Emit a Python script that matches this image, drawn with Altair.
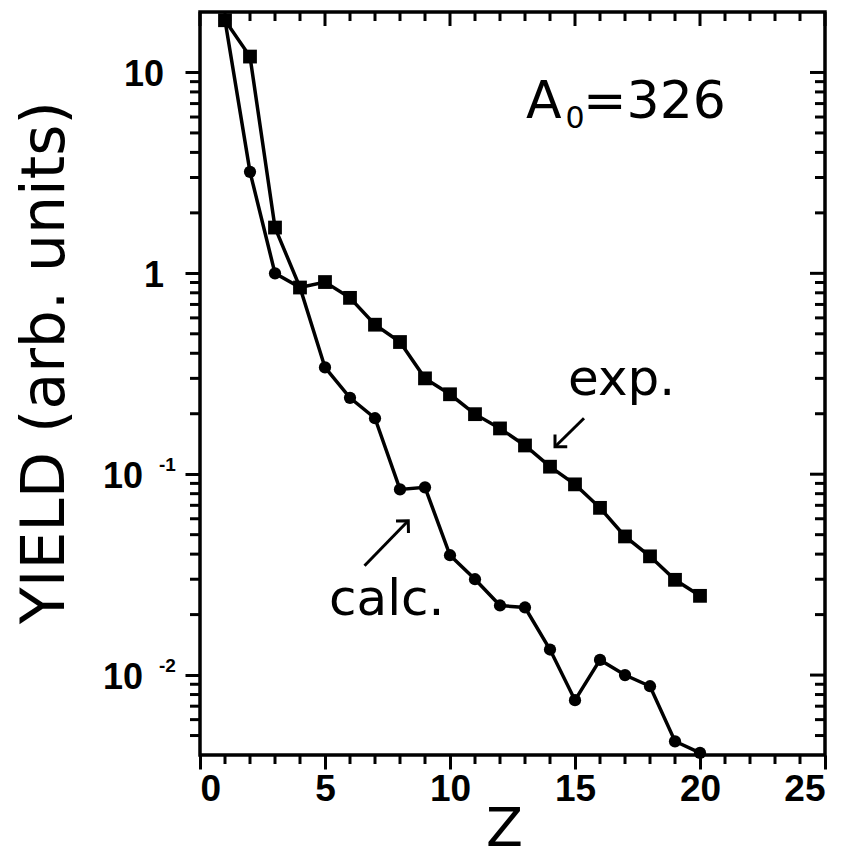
import altair as alt
import pandas as pd

# ---------------- data ----------------
Z = list(range(1, 21))
exp_yield = [18.2, 12.0, 1.69, 0.85, 0.905, 0.755, 0.555, 0.455, 0.30, 0.25,
             0.199, 0.169, 0.139, 0.109, 0.089, 0.068, 0.049, 0.039, 0.0298, 0.0248]
calc_yield = [18.2, 3.2, 1.0, 0.85, 0.34, 0.24, 0.19, 0.084, 0.086, 0.0395,
              0.030, 0.0222, 0.0217, 0.0134, 0.0075, 0.0119, 0.0100, 0.0088, 0.00468, 0.0041]

x_major = [0, 5, 10, 15, 20, 25]
x_minor = [i for i in range(26) if i % 5]
y_major = [0.01, 0.1, 1, 10]
y_minor = [k * 10.0 ** d for d in (-3, -2, -1, 0) for k in range(2, 10)
           if 0.004 < k * 10.0 ** d < 20]

ylab_vals = [10, 1, 0.1, 0.01]
ylab_base = ["10", "1", "10", "10"]
ylab_sup = ["", "", "-1", "-2"]

# "A0=326" is drawn in three pieces: A, subscript 0, =326
a0_text = ["A", "=326"]
a0_z = [13.04, 15.32]
a0_y = [5.9, 5.9]
a0_sub_text = ["0"]
a0_sub_z = [14.62]
a0_sub_y = [5.32]

ann_text = ["exp.", "calc."]
ann_z = [14.72, 5.16]
ann_y = [0.249, 0.0198]

arrow_name = ["exp", "calc"]
arrow_tail_z = [15.36, 6.58]
arrow_tail_y = [0.19, 0.035]
arrow_head_z = [14.2, 8.33]
arrow_head_y = [0.137, 0.0587]

# ---------------- tables ----------------
df = pd.DataFrame({
    "Z": Z * 2,
    "value": exp_yield + calc_yield,
    "series": ["exp"] * len(Z) + ["calc"] * len(Z),
})
df_exp = df[df.series == "exp"]
df_calc = df[df.series == "calc"]

df_xmaj = pd.DataFrame({"Z": x_major})
df_xmin = pd.DataFrame({"Z": x_minor})
df_ymaj = pd.DataFrame({"value": y_major})
df_ymin = pd.DataFrame({"value": y_minor})

df_lab = pd.DataFrame({"value": ylab_vals, "base": ylab_base, "sup": ylab_sup})
df_lab_plain = df_lab[df_lab.sup == ""]
df_lab_exp = df_lab[df_lab.sup != ""]

df_a0 = pd.DataFrame({"Z": a0_z, "value": a0_y, "text": a0_text})
df_a0_sub = pd.DataFrame({"Z": a0_sub_z, "value": a0_sub_y, "text": a0_sub_text})
df_ann = pd.DataFrame({"Z": ann_z, "value": ann_y, "text": ann_text})

df_arrow = pd.DataFrame({
    "arrow": arrow_name * 2,
    "Z": arrow_tail_z + arrow_head_z,
    "value": arrow_tail_y + arrow_head_y,
    "order": [0, 0, 1, 1],
})
df_heads = pd.DataFrame({"arrow": arrow_name, "Z": arrow_head_z, "value": arrow_head_y})

W, H = 625, 743

xscale = alt.Scale(domain=[0, 25], nice=False, zero=False)
yscale = alt.Scale(type="log", domain=[0.004, 20], nice=False)

xaxis = alt.Axis(
    title="Z", values=x_major, format="d",
    labelFont="Liberation Sans", labelFontWeight="bold", labelFontSize=37,
    labelColor="black", labelPadding=2,
    tickSize=14, tickWidth=3, tickColor="black",
    titleFont="DejaVu Sans", titleFontWeight="normal", titleFontSize=54,
    titleColor="black", titleX=304, titleY=90, titleAlign="center",
    titleBaseline="alphabetic",
)
yaxis = alt.Axis(
    title="YIELD (arb. units)", values=y_major, labels=False,
    tickSize=15, tickWidth=3, tickColor="black",
    titleFont="DejaVu Sans", titleFontWeight="normal", titleFontSize=60,
    titleColor="black", titleAngle=270, titleX=-155, titleY=350,
    titleAlign="center", titleBaseline="middle",
)


def X():
    return alt.X("Z:Q", scale=xscale, axis=xaxis)


def Y():
    return alt.Y("value:Q", scale=yscale, axis=yaxis)


lines = alt.Chart(df).mark_line(color="black", strokeWidth=3.5).encode(
    x=X(), y=Y(), detail="series:N")
pts_exp = alt.Chart(df_exp).mark_point(shape="square", filled=True, color="black",
                                       size=190, opacity=1).encode(x=X(), y=Y())
pts_calc = alt.Chart(df_calc).mark_circle(color="black", size=150, opacity=1).encode(
    x=X(), y=Y())

tick_style = dict(color="black", strokeWidth=3)
top_maj = alt.Chart(df_xmaj).mark_rule(**tick_style).encode(
    x=X(), y=alt.value(0), y2=alt.value(14))
top_min = alt.Chart(df_xmin).mark_rule(**tick_style).encode(
    x=X(), y=alt.value(0), y2=alt.value(9))
bot_min = alt.Chart(df_xmin).mark_rule(**tick_style).encode(
    x=X(), y=alt.value(H), y2=alt.value(H + 9))
right_maj = alt.Chart(df_ymaj).mark_rule(**tick_style).encode(
    y=Y(), x=alt.value(W), x2=alt.value(W - 15))
right_min = alt.Chart(df_ymin).mark_rule(**tick_style).encode(
    y=Y(), x=alt.value(W), x2=alt.value(W - 10))
left_min = alt.Chart(df_ymin).mark_rule(**tick_style).encode(
    y=Y(), x=alt.value(0), x2=alt.value(-10))

lab_font = dict(font="Liberation Sans", fontWeight="bold", color="black")
lab_plain = alt.Chart(df_lab_plain).mark_text(
    align="right", baseline="middle", fontSize=36, dy=3, **lab_font).encode(
    y=Y(), x=alt.value(-36), text="base:N")
lab_base = alt.Chart(df_lab_exp).mark_text(
    align="right", baseline="middle", fontSize=36, dy=3, **lab_font).encode(
    y=Y(), x=alt.value(-57), text="base:N")
lab_sup = alt.Chart(df_lab_exp).mark_text(
    align="left", baseline="middle", fontSize=19, dy=-9, **lab_font).encode(
    y=Y(), x=alt.value(-41), text="sup:N")

ann_font = dict(font="DejaVu Sans", color="black", align="left", baseline="alphabetic")
ann_a0 = alt.Chart(df_a0).mark_text(fontSize=52, **ann_font).encode(
    x=X(), y=Y(), text="text:N")
ann_a0_sub = alt.Chart(df_a0_sub).mark_text(fontSize=30, **ann_font).encode(
    x=X(), y=Y(), text="text:N")
ann_lbl = alt.Chart(df_ann).mark_text(fontSize=50, **ann_font).encode(
    x=X(), y=Y(), text="text:N")

shafts = alt.Chart(df_arrow).mark_line(color="black", strokeWidth=3).encode(
    x=X(), y=Y(), detail="arrow:N", order="order:Q")
head_path = "M-1,1 L0,0 L1,1"
head_exp = alt.Chart(df_heads[df_heads.arrow == "exp"]).mark_point(
    shape=head_path, size=300, angle=225, filled=False, color="black",
    strokeWidth=3, opacity=1).encode(x=X(), y=Y())
head_calc = alt.Chart(df_heads[df_heads.arrow == "calc"]).mark_point(
    shape=head_path, size=300, angle=44, filled=False, color="black",
    strokeWidth=3, opacity=1).encode(x=X(), y=Y())

chart = alt.layer(
    lines, pts_exp, pts_calc,
    top_maj, top_min, bot_min, right_maj, right_min, left_min,
    lab_plain, lab_base, lab_sup,
    ann_a0, ann_a0_sub, ann_lbl, shafts, head_exp, head_calc,
).properties(
    width=W, height=H,
    autosize=alt.AutoSizeParams(type="none"),
    padding={"left": 192, "top": 4, "right": 15, "bottom": 104},
    background="white",
).configure_view(
    stroke="black", strokeWidth=3.5
).configure_axis(
    grid=False, domain=False
)

chart.save("out.html", embed_options={"renderer": "svg", "actions": False})
